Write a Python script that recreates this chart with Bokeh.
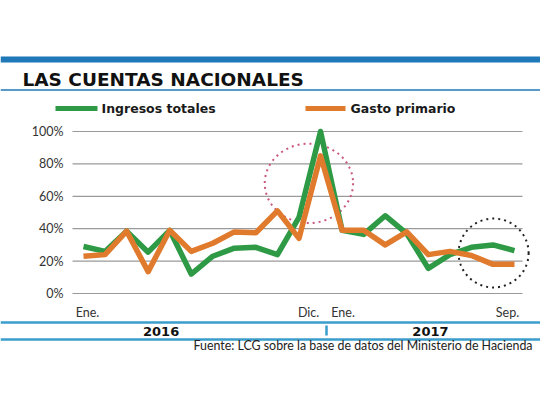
from bokeh.plotting import figure
from bokeh.models import Range1d
from bokeh.core.properties import value
from bokeh.embed import file_html
from bokeh.resources import INLINE

# ---- data ----
months = list(range(21))  # Jan 2016 .. Sep 2017
ingresos = [29, 26, 38.5, 25.5, 39, 12, 23, 28, 28.5, 24, 47, 100,
            39, 36.5, 48, 37, 15.5, 24, 28.5, 30, 26.5]
gasto = [23, 24, 38.5, 13.5, 39, 26, 31, 38, 37.5, 51, 34, 85,
         39, 39, 30, 38, 24, 26, 23.5, 18, 18]
y_ticks = [0, 20, 40, 60, 80, 100]
y_tick_labels = ["0%", "20%", "40%", "60%", "80%", "100%"]
x_tick_idx = [0, 11, 12, 20]
x_tick_labels = ["Ene.", "Dic.", "Ene.", "Sep."]
years = ["2016", "2017"]
year_center_idx = [3.6, 16.1]
title = "LAS CUENTAS NACIONALES"
series_names = ["Ingresos totales", "Gasto primario"]
source_text = "Fuente: LCG sobre la base de datos del Ministerio de Hacienda"
# highlighted regions (center month, center %, width months, height %)
hl_pink = (10.46, 68, 4.1, 49)
hl_black = (19.03, 25, 3.25, 42.5)

W, H = 540, 405
X0, DX = 83.0, 21.55   # pixel of month 0, pixels per month
Y0, DY = 293.0, 1.62   # pixel of 0%, pixels per 1%

def X(px):
    return (px - X0) / DX

def Y(py):
    return (Y0 - py) / DY

GREEN = "#2f9a45"
ORANGE = "#e07a2c"
BLUE = "#1f78b8"
LBLUE = "#3a9dcc"
FONT = value("Lato")
BFONT = value("DejaVu Sans")

p = figure(width=W, height=H, output_backend="svg", toolbar_location=None,
           x_range=Range1d(X(0), X(W)), y_range=Range1d(Y(H), Y(0)),
           min_border=0, outline_line_color=None)
p.axis.visible = False
p.grid.visible = False
p.background_fill_color = "white"

# top blue bar and title underline
p.quad(left=[X(0)], right=[X(W)], top=[Y(56)], bottom=[Y(62)], color=BLUE, line_color=None)
p.segment(x0=[X(0)], x1=[X(W)], y0=[Y(89.5)], y1=[Y(89.5)], line_color=BLUE, line_width=1.5)
p.text(x=[X(22)], y=[Y(79)], text=[title], text_font=BFONT, text_font_style="bold",
       text_font_size="18.5px", text_baseline="middle", text_align="left", text_color="#111111")

# legend
p.segment(x0=[X(55), X(305)], x1=[X(97), X(345)], y0=[Y(108)] * 2, y1=[Y(108)] * 2,
          line_color=[GREEN, ORANGE], line_width=5)
p.text(x=[X(101), X(350)], y=[Y(108)] * 2, text=series_names, text_font=BFONT,
       text_font_style="bold", text_font_size="12.5px", text_baseline="middle",
       text_align="left", text_color="#1a1a1a")

# grid lines and y tick labels
p.segment(x0=[X(72)] * len(y_ticks), x1=[X(522)] * len(y_ticks), y0=y_ticks, y1=y_ticks,
          line_color="#9a9a9a", line_width=1.2)
p.text(x=[X(63)] * len(y_ticks), y=y_ticks, text=y_tick_labels, text_font=FONT,
       text_font_size="12.5px", text_baseline="middle", text_align="right", text_color="#333333")

# x tick labels
p.text(x=x_tick_idx, y=[Y(312)] * 4, text=x_tick_labels, x_offset=[4, -12, 1, -7],
       text_font=FONT, text_font_size="12.5px", text_baseline="middle", text_align="center",
       text_color="#333333")

# highlight circles
p.ellipse(x=[hl_pink[0]], y=[hl_pink[1]], width=[hl_pink[2]], height=[hl_pink[3]],
          fill_color=None, line_color="#c9577f", line_width=2, line_dash="2 4")
p.ellipse(x=[hl_black[0]], y=[hl_black[1]], width=[hl_black[2]], height=[hl_black[3]],
          fill_color=None, line_color="#222222", line_width=2, line_dash="2 4")

# series
p.line(months, ingresos, line_color=GREEN, line_width=5.5, line_join="round")
p.line(months, gasto, line_color=ORANGE, line_width=5.5, line_join="round")

# year band
p.segment(x0=[X(0)] * 2, x1=[X(W)] * 2, y0=[Y(322), Y(339)], y1=[Y(322), Y(339)],
          line_color=LBLUE, line_width=2.5)
p.segment(x0=[X(326)], x1=[X(326)], y0=[Y(325)], y1=[Y(335)], line_color=LBLUE, line_width=2.5)
p.text(x=year_center_idx, y=[Y(330.5)] * 2, text=years, text_font=BFONT, text_font_style="bold",
       text_font_size="13px", text_baseline="middle", text_align="center", text_color="#111111")

# source
p.text(x=[X(532)], y=[Y(345)], text=[source_text], text_font=FONT, text_font_size="12.4px",
       text_baseline="middle", text_align="right", text_color="#222222")

open("out.html", "w").write(file_html(p, INLINE))
